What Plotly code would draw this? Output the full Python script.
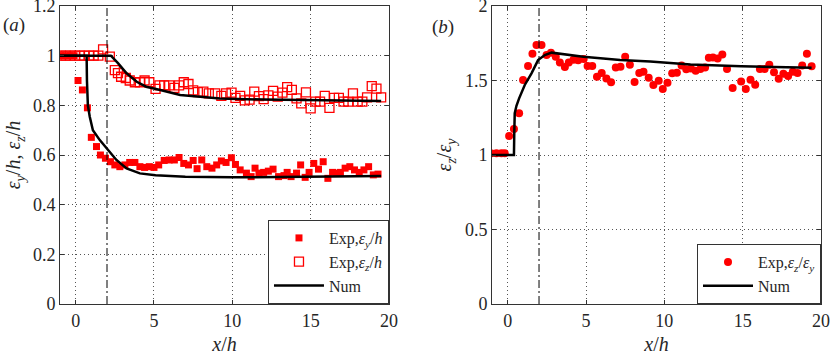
import plotly.graph_objects as go

# ---- Panel (a): experimental eps_y/h (filled squares)
ey_x = [-0.95, -0.65, -0.35, -0.1, 0.15, 0.43, 0.75, 1.0, 1.33, 1.58, 1.9, 2.22, 2.5, 2.82,
        3.14, 3.45, 3.78, 4.1, 4.4, 4.7, 5.0, 5.3, 5.65, 5.97, 6.3, 6.6, 6.9, 7.2, 7.5, 7.75,
        8.05, 8.37, 8.7, 9.0, 9.3, 9.6, 9.94, 10.2, 10.5, 10.9, 11.2, 11.45, 11.7, 12.0, 12.3,
        12.6, 12.95, 13.3, 13.5, 13.75, 14.1, 14.36, 14.65, 14.9, 15.2, 15.5, 15.8, 16.1, 16.4,
        16.66, 16.9, 17.2, 17.5, 17.8, 18.1, 18.4, 18.7, 19.0, 19.3]
ey_y = [1.0, 1.0, 1.0, 1.0, 0.90, 0.862, 0.79, 0.671, 0.634, 0.60, 0.587, 0.573, 0.56, 0.553,
        0.56, 0.57, 0.57, 0.553, 0.55, 0.553, 0.55, 0.56, 0.578, 0.58, 0.58, 0.59, 0.566, 0.56, 0.578, 0.545,
        0.58, 0.553, 0.547, 0.56, 0.576, 0.57, 0.589, 0.562, 0.54, 0.527, 0.513, 0.547, 0.527, 0.53, 0.535,
        0.543, 0.513, 0.517, 0.53, 0.513, 0.527, 0.56, 0.51, 0.53, 0.566, 0.543, 0.573, 0.506, 0.53,
        0.527, 0.53, 0.547, 0.553, 0.54, 0.53, 0.54, 0.553, 0.52, 0.523]

# ---- Panel (a): experimental eps_z/h (open squares)
ez_x = [-0.95, -0.65, -0.35, -0.05, 0.25, 0.55, 0.85, 1.15, 1.45, 1.75, 2.18, 2.5, 2.7, 2.9,
        3.2, 3.45, 3.78, 4.1, 4.4, 4.7, 5.1, 5.35, 5.65, 5.97, 6.3, 6.6, 6.9, 7.2, 7.5, 7.8,
        8.15, 8.5, 8.9, 9.3, 9.6, 9.95, 10.2, 10.5, 10.8, 11.1, 11.4, 11.7, 12.0, 12.3, 12.6,
        12.9, 13.2, 13.5, 13.8, 14.1, 14.4, 14.7, 15.0, 15.3, 15.6, 15.9, 16.2, 16.5, 16.8,
        17.1, 17.4, 17.7, 18.0, 18.3, 18.6, 18.9, 19.2, 19.5]
ez_y = [1.0, 1.0, 1.0, 1.0, 1.0, 1.0, 1.0, 1.0, 1.0, 1.025, 0.996, 0.942, 0.93, 0.915,
        0.91, 0.90, 0.893, 0.893, 0.90, 0.893, 0.866, 0.88, 0.88, 0.88, 0.87, 0.88, 0.893, 0.886, 0.86, 0.853,
        0.855, 0.848, 0.848, 0.838, 0.848, 0.851, 0.830, 0.838, 0.82, 0.823, 0.855, 0.837, 0.825, 0.84, 0.858,
        0.835, 0.851, 0.873, 0.862, 0.828, 0.808, 0.852, 0.788, 0.815, 0.815, 0.838, 0.79, 0.83, 0.83,
        0.815, 0.815, 0.848, 0.815, 0.815, 0.832, 0.877, 0.867, 0.832]

# ---- Panel (a): numerical curves
num_y_x = [-1, 0.7, 0.72, 0.78, 0.9, 1.1, 1.54, 2.07, 2.6, 3.25, 4.1, 5.1, 7, 10, 15, 19.5]
num_y_y = [1.0, 1.0, 0.9, 0.8, 0.754, 0.70, 0.66, 0.62, 0.58, 0.546, 0.526, 0.518, 0.512, 0.51, 0.512, 0.515]
num_z_x = [-1, 2.25, 2.7, 3.25, 3.9, 4.5, 5.4, 6.67, 7.95, 9.2, 12, 15, 19.5]
num_z_y = [1.0, 1.0, 0.97, 0.929, 0.895, 0.875, 0.862, 0.842, 0.835, 0.828, 0.823, 0.82, 0.817]

# ---- Panel (b): experimental eps_z/eps_y
r_x = [-1.04, -0.72, -0.4, -0.19, 0.09, 0.4, 0.73, 0.98, 1.3, 1.58, 1.84, 2.16, 2.48, 2.76,
       3.07, 3.33, 3.65, 3.9, 4.2, 4.5, 4.85, 5.1, 5.4, 5.7, 6.0, 6.3, 6.6, 6.9, 7.2, 7.5,
       7.8, 8.1, 8.4, 8.67, 9.0, 9.3, 9.64, 9.9, 10.2, 10.5, 10.8, 11.1, 11.4, 11.7, 12.0,
       12.3, 12.6, 12.84, 13.1, 13.4, 13.7, 14.0, 14.36, 14.9, 15.2, 15.5, 15.8, 16.1, 16.4,
       16.7, 17.0, 17.3, 17.6, 17.9, 18.2, 18.5, 18.8, 19.1, 19.4]
r_y = [1.011, 1.011, 1.011, 1.011, 1.128, 1.174, 1.28, 1.503, 1.597, 1.68, 1.738, 1.738, 1.671, 1.687,
       1.66, 1.62, 1.59, 1.62, 1.64, 1.636, 1.645, 1.597, 1.597, 1.526, 1.55, 1.514, 1.488, 1.588, 1.593, 1.66,
       1.605, 1.49, 1.55, 1.559, 1.519, 1.47, 1.499, 1.443, 1.485, 1.548, 1.552, 1.60, 1.575, 1.58, 1.566,
       1.577, 1.588, 1.653, 1.655, 1.648, 1.675, 1.577, 1.449, 1.494, 1.443, 1.505, 1.472, 1.577, 1.577,
       1.606, 1.555, 1.512, 1.546, 1.53, 1.558, 1.55, 1.60, 1.68, 1.595]

# ---- Panel (b): numerical curve
rn_x = [-1, 0.4, 0.42, 0.45, 0.56, 0.73, 1.09, 1.52, 1.94, 2.37, 2.8, 4.83, 7.18, 9.1, 11.67, 14.9, 19.4]
rn_y = [1.0, 1.0, 1.15, 1.28, 1.33, 1.38, 1.47, 1.548, 1.637, 1.671, 1.687, 1.66, 1.637, 1.627, 1.608, 1.595, 1.586]

RED = "#ff0000"
FONT = "Liberation Serif"
TXT = "#262626"

fig = go.Figure()
fig.add_trace(go.Scatter(x=ey_x, y=ey_y, mode="markers", name="Exp,<i>ε<sub>y</sub></i>/<i>h</i>",
                         marker=dict(symbol="square", size=7, color=RED), xaxis="x", yaxis="y", legend="legend"))
fig.add_trace(go.Scatter(x=ez_x, y=ez_y, mode="markers", name="Exp,<i>ε<sub>z</sub></i>/<i>h</i>",
                         marker=dict(symbol="square-open", size=9, color=RED, line=dict(width=1.3, color=RED)),
                         xaxis="x", yaxis="y", legend="legend"))
fig.add_trace(go.Scatter(x=num_y_x, y=num_y_y, mode="lines", name="Num",
                         line=dict(color="black", width=2.5), xaxis="x", yaxis="y", legend="legend"))
fig.add_trace(go.Scatter(x=num_z_x, y=num_z_y, mode="lines", name="Num", showlegend=False,
                         line=dict(color="black", width=2.5), xaxis="x", yaxis="y", legend="legend"))
fig.add_trace(go.Scatter(x=r_x, y=r_y, mode="markers", name="Exp,<i>ε<sub>z</sub></i>/<i>ε<sub>y</sub></i>",
                         marker=dict(symbol="circle", size=8, color=RED), xaxis="x2", yaxis="y2", legend="legend2"))
fig.add_trace(go.Scatter(x=rn_x, y=rn_y, mode="lines", name="Num",
                         line=dict(color="black", width=2.5), xaxis="x2", yaxis="y2", legend="legend2"))

axis_common = dict(showline=True, mirror="ticks", linecolor="#333333", linewidth=1,
                   ticks="inside", ticklen=4, tickcolor="#333333", automargin=False,
                   ticklabeloverflow="allow",
                   showgrid=True, gridcolor="#555555", griddash="1px,3px", gridwidth=1,
                   zeroline=False, tickfont=dict(family=FONT, size=18, color=TXT))
TITLE_FONT = dict(family=FONT, size=20, color=TXT)

fig.update_layout(
    width=830, height=357,
    margin=dict(l=60, r=9, t=6, b=53),
    paper_bgcolor="white", plot_bgcolor="white",
    font=dict(family=FONT, size=18, color=TXT),
    xaxis=dict(domain=[0, 0.4323], range=[-1, 20], tickvals=[0, 5, 10, 15, 20], anchor="y",
               title=dict(text="<i>x</i>/<i>h</i>", standoff=7, font=TITLE_FONT), **axis_common),
    yaxis=dict(domain=[0, 1], range=[0, 1.2], tickvals=[0, 0.2, 0.4, 0.6, 0.8, 1, 1.2], anchor="x",
               title=dict(text="<i>ε<sub>y</sub></i>/<i>h</i>, <i>ε<sub>z</sub></i>/<i>h</i>", standoff=6,
                          font=TITLE_FONT), **axis_common),
    xaxis2=dict(domain=[0.5677, 1], range=[-1, 20], tickvals=[0, 5, 10, 15, 20], anchor="y2",
                title=dict(text="<i>x</i>/<i>h</i>", standoff=7, font=TITLE_FONT), **axis_common),
    yaxis2=dict(domain=[0, 1], range=[0, 2], tickvals=[0, 0.5, 1, 1.5, 2], anchor="x2",
                title=dict(text="<i>ε<sub>z</sub></i>/<i>ε<sub>y</sub></i>", standoff=7,
                           font=TITLE_FONT), **axis_common),
    legend=dict(x=0.4323, y=0, xanchor="right", yanchor="bottom", bgcolor="white",
                bordercolor="#333333", borderwidth=1, font=dict(family=FONT, size=16, color=TXT),
                tracegroupgap=0, itemwidth=50),
    legend2=dict(x=1, y=0, xanchor="right", yanchor="bottom", bgcolor="white",
                 bordercolor="#333333", borderwidth=1, font=dict(family=FONT, size=16, color=TXT),
                 tracegroupgap=0, itemwidth=50),
    shapes=[
        dict(type="line", xref="x", yref="y domain", x0=2, x1=2, y0=0, y1=1,
             line=dict(color="black", width=1, dash="8px,3px,2px,3px")),
        dict(type="line", xref="x2", yref="y2 domain", x0=2, x1=2, y0=0, y1=1,
             line=dict(color="black", width=1, dash="8px,3px,2px,3px")),
    ],
    annotations=[
        dict(text="(<i>a</i>)", xref="paper", yref="paper", x=-0.06, y=0.935, showarrow=False,
             font=dict(family=FONT, size=19, color=TXT), xanchor="center", yanchor="middle"),
        dict(text="(<i>b</i>)", xref="paper", yref="paper", x=0.503, y=0.93, showarrow=False,
             font=dict(family=FONT, size=19, color=TXT), xanchor="center", yanchor="middle"),
    ],
)

fig.write_html("out.html", config={"displayModeBar": False},
               post_script="document.body.style.margin='0';document.body.style.padding='0';")
